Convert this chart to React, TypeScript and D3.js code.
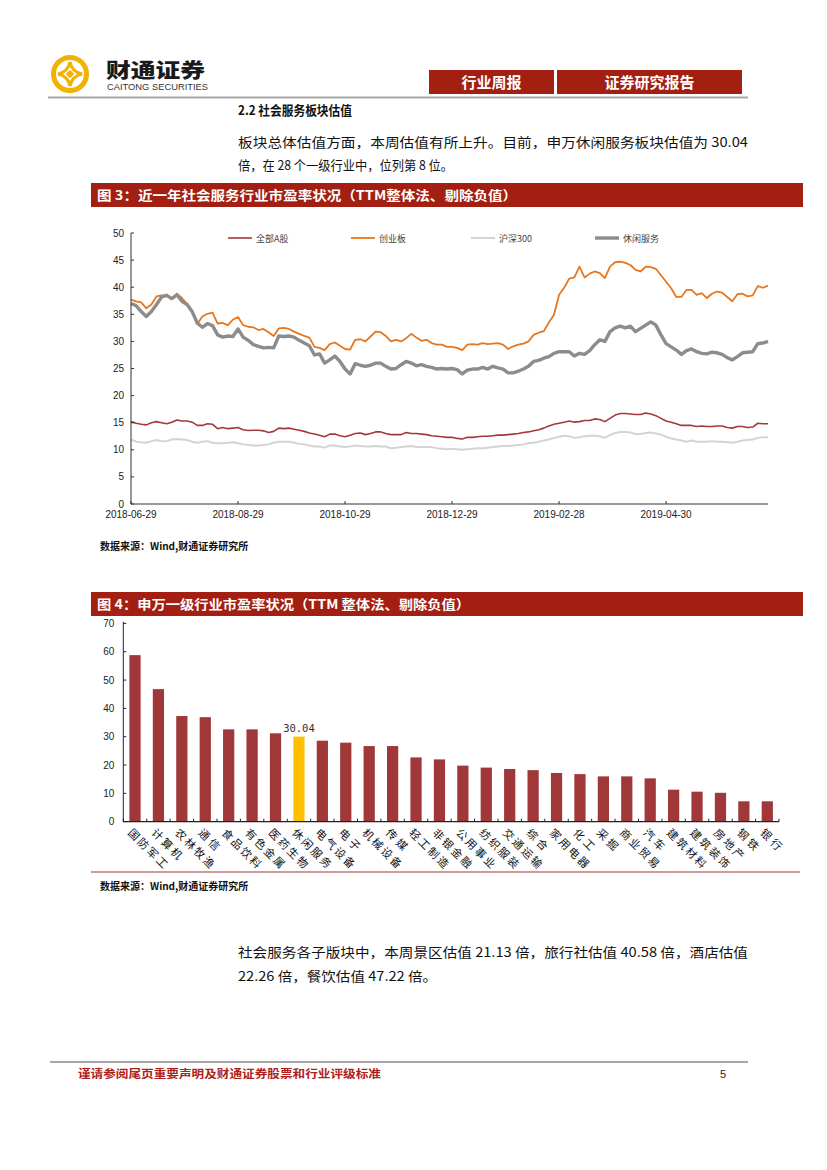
import React from 'react';
import * as d3 from 'd3';

// ---------- Chart 1 data (近一年社会服务行业市盈率) ----------
const X_LABELS = ['2018-06-29', '2018-08-29', '2018-10-29', '2018-12-29', '2019-02-28', '2019-04-30'];
const X_TICK_IDX = [0, 21, 42, 63, 84, 105];
const LEGEND_NAMES = ['全部A股', '创业板', '沪深300', '休闲服务'];
const Y1_TICKS = [0, 5, 10, 15, 20, 25, 30, 35, 40, 45, 50];

const SERIES_ALLA = [
  15.2, 14.9, 14.7, 14.6, 15.0, 15.2, 15.0, 14.8, 15.1, 15.5, 15.3, 15.3, 15.1, 14.5, 14.5, 14.8, 14.7, 13.9, 14.1, 13.9,
  14.0, 14.1, 13.7, 13.55, 13.6, 13.6, 13.5, 13.2, 13.4, 14.0, 13.9, 14.0, 13.8, 13.6, 13.4, 13.1, 12.9, 12.7, 12.4, 12.9,
  12.9, 12.6, 12.4, 12.7, 13.0, 13.1, 12.8, 13.0, 13.3, 13.3, 13.0, 12.8, 12.8, 12.8, 13.2, 13.0, 13.0, 12.9, 12.8, 12.6,
  12.5, 12.4, 12.3,
  12.3, 12.1, 12.0, 12.3, 12.3, 12.4, 12.5, 12.5, 12.6, 12.7, 12.7, 12.8, 12.9, 13.0, 13.2, 13.3, 13.5, 13.7, 14.0, 14.4,
  14.7, 14.9, 15.1, 15.3, 15.1, 15.2, 15.4, 15.4, 15.7, 15.6, 15.2, 15.8, 16.4, 16.7, 16.7, 16.6, 16.5, 16.5, 16.8, 16.6,
  16.3, 15.8, 15.3, 15.1, 14.8, 14.5, 14.5, 14.5, 14.3, 14.4, 14.3, 14.3, 14.4, 14.4, 14.1, 14.0, 14.3, 14.3, 14.1, 14.2,
  14.9, 14.8, 14.8,
];
const SERIES_CYB = [
  37.7, 37.4, 37.2, 36.1, 36.8, 38.3, 38.5, 38.5, 37.8, 38.8, 38.0, 36.9, 35.6, 33.2, 34.6, 35.1, 35.3, 33.3, 33.4, 33.0,
  34.0, 34.5, 33.0, 32.7, 32.6, 32.1, 32.3, 31.7, 31.0, 32.4, 32.5, 32.3, 31.8, 31.4, 31.0, 30.7, 29.0, 28.8, 28.4, 29.5,
  29.8, 29.2, 28.6, 28.5, 30.3, 30.4, 30.0, 30.9, 31.8, 31.7, 31.0, 30.0, 30.3, 30.0, 30.6, 31.4, 30.7, 30.1, 30.3, 29.7,
  29.4, 29.4, 29.0,
  29.0, 28.8, 28.4, 29.4, 29.5, 29.4, 29.7, 29.5, 29.6, 29.7, 29.4, 28.6, 29.1, 29.4, 29.6, 30.0, 31.2, 31.6, 31.9, 33.5,
  34.9, 38.6, 39.9, 41.6, 41.8, 43.8, 41.8, 42.5, 42.9, 42.6, 41.7, 43.8, 44.6, 44.7, 44.5, 44.1, 43.2, 42.9, 43.8, 43.7,
  43.4, 42.2, 41.0, 39.8, 38.2, 38.2, 39.5, 39.5, 38.6, 38.9, 38.0, 38.8, 39.2, 39.0, 38.2, 37.4, 38.7, 38.8, 38.3, 38.5,
  40.2, 39.9, 40.3,
];
const SERIES_HS300 = [
  11.9, 11.5, 11.4, 11.3, 11.6, 11.8, 11.6, 11.6, 11.9, 12.0, 11.9, 11.8, 11.5, 11.3, 11.5, 11.6, 11.3, 11.2, 11.2, 11.3,
  11.4, 11.2, 11.0, 10.9, 10.8, 10.8, 10.9, 11.0, 11.3, 11.5, 11.5, 11.5, 11.3, 11.1, 11.0, 10.8, 10.6, 10.6, 10.4, 10.8,
  10.8, 10.6, 10.5, 10.6, 10.8, 10.7, 10.6, 10.6, 10.7, 10.6, 10.6, 10.3, 10.4, 10.5, 10.6, 10.7, 10.5, 10.5, 10.5, 10.5,
  10.3, 10.2, 10.1,
  10.2, 10.1, 10.0, 10.1, 10.2, 10.3, 10.3, 10.4, 10.5, 10.6, 10.7, 10.7, 10.8, 10.9, 11.0, 11.2, 11.3, 11.5, 11.7, 11.9,
  12.2, 12.4, 12.6, 12.5, 12.2, 12.3, 12.5, 12.6, 12.6, 12.5, 12.2, 12.7, 13.1, 13.3, 13.3, 13.2, 12.9, 12.9, 13.1, 13.2,
  13.0, 12.8, 12.4, 12.1, 11.9, 11.7, 11.5, 11.7, 11.5, 11.5, 11.5, 11.6, 11.5, 11.5, 11.4, 11.3, 11.5, 11.7, 11.8, 11.9,
  12.2, 12.3, 12.3,
];
const SERIES_XXFW = [
  37.0, 36.6, 35.5, 34.6, 35.5, 36.8, 38.2, 38.5, 37.9, 38.6, 37.4, 36.8, 35.5, 33.4, 32.6, 33.3, 32.9, 31.2, 30.8, 31.0,
  30.9, 32.3, 30.8, 30.2, 29.4, 29.1, 28.8, 28.9, 28.8, 31.0, 30.9, 31.0, 30.8, 30.2, 29.7, 29.2, 27.5, 27.7, 26.0, 26.6,
  27.3, 26.3, 24.9, 24.0, 25.9, 25.6, 25.4, 25.6, 26.0, 26.0, 25.4, 24.9, 25.0, 25.7, 26.3, 26.0, 25.5, 25.7, 25.4, 25.2,
  24.9, 25.0, 24.9,
  25.0, 24.8, 24.0, 24.7, 24.9, 24.9, 25.2, 24.9, 25.4, 25.1, 24.9, 24.2, 24.2, 24.5, 24.9, 25.4, 26.3, 26.5, 26.9, 27.2,
  27.8, 28.1, 28.1, 28.1, 27.3, 27.8, 27.6, 28.3, 29.4, 30.3, 30.0, 31.8, 32.5, 32.8, 32.5, 32.8, 31.8, 32.4, 33.0, 33.6,
  33.0, 31.2, 29.6, 29.0, 28.4, 27.6, 28.3, 28.6, 28.1, 27.8, 27.7, 28.0, 27.9, 27.6, 27.0, 26.6, 27.2, 27.9, 28.0, 28.1,
  29.6, 29.7, 30.0,
];

// ---------- Chart 2 data (申万一级行业市盈率) ----------
const CATEGORIES = [
  '国防军工', '计算机', '农林牧渔', '通信', '食品饮料', '有色金属', '医药生物', '休闲服务', '电气设备', '电子',
  '机械设备', '传媒', '轻工制造', '非银金融', '公用事业', '纺织服装', '交通运输', '综合', '家用电器', '化工',
  '采掘', '商业贸易', '汽车', '建筑材料', '建筑装饰', '房地产', '钢铁', '银行',
];
const PE_VALUES = [
  58.8, 46.8, 37.3, 36.9, 32.6, 32.6, 31.2, 30.04, 28.6, 27.9,
  26.7, 26.7, 22.7, 22.0, 19.8, 19.1, 18.6, 18.2, 17.2, 16.8,
  16.0, 16.0, 15.3, 11.3, 10.6, 10.2, 7.2, 7.2,
];
const HIGHLIGHT = '休闲服务';
const Y2_TICKS = [0, 10, 20, 30, 40, 50, 60, 70];

const CJK = '"Noto Sans CJK SC", "Noto Sans", sans-serif';
const LAT = '"Liberation Sans", Arial, sans-serif';
const RED = '#A31F12';

const SERIES = [
  { name: LEGEND_NAMES[0], data: SERIES_ALLA, color: '#A4383D', width: 1.6 },
  { name: LEGEND_NAMES[1], data: SERIES_CYB, color: '#E8761D', width: 1.8 },
  { name: LEGEND_NAMES[2], data: SERIES_HS300, color: '#D4D4D4', width: 2 },
  { name: LEGEND_NAMES[3], data: SERIES_XXFW, color: '#8C8C8C', width: 3.4 },
];
const LEGEND_X = [228, 351, 471, 595];

function Logo() {
  const cx = 70, cy = 74;
  const gold = '#F2B200';
  return (
    <g>
      <circle cx={cx} cy={cy} r={16.5} fill="none" stroke={gold} strokeWidth={5} />
      <path
        d={`M${cx} ${cy - 12} Q${cx + 2} ${cy - 2} ${cx + 12} ${cy} Q${cx + 2} ${cy + 2} ${cx} ${cy + 12} Q${cx - 2} ${cy + 2} ${cx - 12} ${cy} Q${cx - 2} ${cy - 2} ${cx} ${cy - 12} Z`}
        fill="none" stroke={gold} strokeWidth={3.2}
      />
      <rect x={cx - 3} y={cy - 3} width={6} height={6} fill={gold} transform={`rotate(45 ${cx} ${cy})`} />
    </g>
  );
}

function LineChart() {
  const n = SERIES_ALLA.length;
  const x = d3.scaleLinear().domain([0, n - 1]).range([131, 768]);
  const y = d3.scaleLinear().domain([0, 50]).range([504, 233]);
  const line = d3.line<number>().x((_, i) => x(i)).y((d) => y(d)).curve(d3.curveLinear);
  const axisColor = '#333';
  return (
    <g>
      {SERIES.map((s, k) => (
        <g key={s.name}>
          <line x1={LEGEND_X[k]} x2={LEGEND_X[k] + 24} y1={238} y2={238} stroke={s.color} strokeWidth={s.width} />
          <text x={LEGEND_X[k] + 28} y={241.5} fontFamily={CJK} fontSize={9} fill="#444">{s.name}</text>
        </g>
      ))}
      {SERIES.map((s) => (
        <path key={s.name} d={line(s.data) || ''} fill="none" stroke={s.color} strokeWidth={s.width} strokeLinejoin="round" />
      ))}
      <line x1={x(0)} x2={x(0)} y1={y(50)} y2={y(0)} stroke={axisColor} strokeWidth={1} />
      {Y1_TICKS.map((t) => (
        <g key={t}>
          <line x1={x(0)} x2={x(0) + 3} y1={y(t)} y2={y(t)} stroke={axisColor} strokeWidth={1} />
          <text x={x(0) - 7} y={y(t) + 3.5} textAnchor="end" fontFamily={LAT} fontSize={10} fill="#222">{t}</text>
        </g>
      ))}
      <line x1={x(0)} x2={x(n - 1)} y1={y(0)} y2={y(0)} stroke={axisColor} strokeWidth={1} />
      {X_TICK_IDX.map((ti, k) => (
        <g key={ti}>
          <line x1={x(ti)} x2={x(ti)} y1={y(0)} y2={y(0) - 3} stroke={axisColor} strokeWidth={1} />
          <text x={x(ti)} y={518} textAnchor="middle" fontFamily={LAT} fontSize={10} fill="#222">{X_LABELS[k]}</text>
        </g>
      ))}
    </g>
  );
}

function BarChart() {
  const x = d3.scaleBand<string>().domain(CATEGORIES).range([123.3, 779]).paddingInner(0.52).paddingOuter(0.26);
  const y = d3.scaleLinear().domain([0, 70]).range([821.7, 623.4]);
  const step = x.step();
  const x0 = 123.3;
  const axisColor = '#222';
  return (
    <g>
      {CATEGORIES.map((c, i) => {
        const v = PE_VALUES[i];
        const hl = c === HIGHLIGHT;
        const cx = (x(c) || 0) + x.bandwidth() / 2;
        return (
          <g key={c}>
            <rect x={x(c)} y={y(v)} width={x.bandwidth()} height={y(0) - y(v)} fill={hl ? '#FFC000' : '#A0383A'} />
            {hl && (
              <text x={cx} y={y(v) - 5} textAnchor="middle" fontFamily='"DejaVu Sans Mono", monospace' fontSize={10.5} fill="#333">
                {v.toFixed(2)}
              </text>
            )}
            <text
              transform={`translate(${cx - 5},${y(0) + 9}) rotate(45)`}
              fontFamily={CJK} fontSize={11} fill="#111" dy="0.35em"
              textLength={c.length * 12.6} lengthAdjust="spacing"
            >{c}</text>
          </g>
        );
      })}
      <line x1={x0} x2={x0} y1={621.7} y2={y(0)} stroke={axisColor} strokeWidth={1} />
      {Y2_TICKS.map((t) => (
        <g key={t}>
          <line x1={x0} x2={x0 + 3} y1={y(t)} y2={y(t)} stroke={axisColor} strokeWidth={1} />
          <text x={x0 - 9} y={y(t) + 3.5} textAnchor="end" fontFamily={LAT} fontSize={10} fill="#222">{t}</text>
        </g>
      ))}
      <line x1={x0} x2={779} y1={y(0)} y2={y(0)} stroke={axisColor} strokeWidth={1.2} />
      {d3.range(CATEGORIES.length + 1).map((k) => (
        <line key={k} x1={x0 + k * step} x2={x0 + k * step} y1={y(0)} y2={y(0) - 3} stroke={axisColor} strokeWidth={1} />
      ))}
    </g>
  );
}

export default function App() {
  return (
    <svg width={827} height={1170} viewBox="0 0 827 1170" style={{ position: 'absolute', left: 0, top: 0, background: '#fff' }}>
      <rect x={0} y={0} width={827} height={1170} fill="#fff" />
      <Logo />
      <text x={106} y={78} fontFamily={CJK} fontWeight={900} fontSize={20} fill="#1a1a1a" textLength={99} lengthAdjust="spacingAndGlyphs">财通证券</text>
      <text x={107} y={89.5} fontFamily={LAT} fontSize={8.2} fill="#333" textLength={101} lengthAdjust="spacingAndGlyphs">CAITONG SECURITIES</text>
      <rect x={429} y={70} width={125} height={24} fill={RED} />
      <rect x={557} y={70} width={185} height={24} fill={RED} />
      <text x={491.5} y={87.5} textAnchor="middle" fontFamily={CJK} fontWeight={700} fontSize={15} fill="#fff">行业周报</text>
      <text x={649.5} y={87.5} textAnchor="middle" fontFamily={CJK} fontWeight={700} fontSize={15} fill="#fff">证券研究报告</text>
      <line x1={48} x2={748} y1={97.5} y2={97.5} stroke="#A8A8A8" strokeWidth={2} />

      <text x={238} y={115} fontFamily={CJK} fontWeight={700} fontSize={13} fill="#111" textLength={114} lengthAdjust="spacingAndGlyphs">2.2 社会服务板块估值</text>
      <text x={238} y={147} fontFamily={CJK} fontSize={13} fill="#111" textLength={510} lengthAdjust="spacingAndGlyphs">板块总体估值方面，本周估值有所上升。目前，申万休闲服务板块估值为 30.04</text>
      <text x={238} y={170} fontFamily={CJK} fontSize={13} fill="#111" textLength={215} lengthAdjust="spacingAndGlyphs">倍，在 28 个一级行业中，位列第 8 位。</text>

      <rect x={91} y={183} width={712} height={24} fill={RED} />
      <text x={97} y={200} fontFamily={CJK} fontWeight={700} fontSize={13} fill="#fff" textLength={420} lengthAdjust="spacingAndGlyphs">图 3：近一年社会服务行业市盈率状况（TTM整体法、剔除负值）</text>
      <LineChart />
      <text x={100} y={550} fontFamily={CJK} fontWeight={700} fontSize={10} fill="#111">数据来源：Wind,财通证券研究所</text>

      <rect x={91} y={592} width={712} height={24} fill={RED} />
      <text x={97} y={609} fontFamily={CJK} fontWeight={700} fontSize={13} fill="#fff" textLength={373} lengthAdjust="spacingAndGlyphs">图 4：申万一级行业市盈率状况（TTM 整体法、剔除负值）</text>
      <BarChart />
      <line x1={91} x2={800} y1={872} y2={872} stroke="#A0392F" strokeWidth={1.2} />
      <text x={100} y={890} fontFamily={CJK} fontWeight={700} fontSize={10} fill="#111">数据来源：Wind,财通证券研究所</text>

      <text x={238} y={957} fontFamily={CJK} fontSize={13} fill="#111" textLength={510} lengthAdjust="spacingAndGlyphs">社会服务各子版块中，本周景区估值 21.13 倍，旅行社估值 40.58 倍，酒店估值</text>
      <text x={238} y={981} fontFamily={CJK} fontSize={13} fill="#111" textLength={199} lengthAdjust="spacingAndGlyphs">22.26 倍，餐饮估值 47.22 倍。</text>

      <line x1={50} x2={748} y1={1062} y2={1062} stroke="#A8A8A8" strokeWidth={2} />
      <text x={78} y={1078} fontFamily={CJK} fontWeight={700} fontSize={11} fill="#B0201A" textLength={303} lengthAdjust="spacingAndGlyphs">谨请参阅尾页重要声明及财通证券股票和行业评级标准</text>
      <text x={720} y={1078} fontFamily={LAT} fontSize={11} fill="#222">5</text>
    </svg>
  );
}
